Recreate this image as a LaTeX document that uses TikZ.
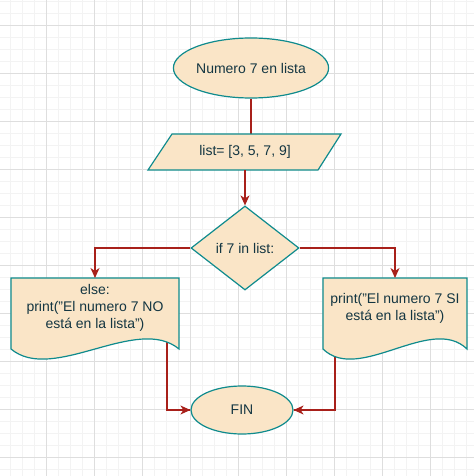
\documentclass[tikz,border=0pt]{standalone}
\usepackage{fontspec}
\setmainfont{Liberation Sans}
\usetikzlibrary{shapes.geometric,arrows.meta}
\pgfdeclarelayer{bg}
\pgfsetlayers{bg,main}
\definecolor{shapefill}{HTML}{FAE5C7}
\definecolor{shapeline}{HTML}{0F8B8D}
\definecolor{txtcol}{HTML}{143642}
\definecolor{edgecol}{HTML}{A8201A}
\definecolor{gridmajor}{HTML}{DEDEDE}
\definecolor{gridminor}{HTML}{F3F3F3}
\tikzset{
  shp/.style={fill=shapefill, draw=shapeline, line width=1.2pt},
  term/.style={shp, ellipse, inner sep=0pt, text=txtcol, font=\fontsize{14}{17}\selectfont},
  dec/.style={shp, diamond, inner sep=0pt, text=txtcol, font=\fontsize{14}{17}\selectfont},
  lbl/.style={text=txtcol, font=\fontsize{14}{17}\selectfont, align=center, inner sep=0pt},
  conn/.style={draw=edgecol, line width=1.2pt},
  arr/.style={conn, -{Stealth[length=10pt,width=9pt,inset=3pt]}},
  minorline/.style={draw=gridminor, line width=0.8pt},
  majorline/.style={draw=gridmajor, line width=0.9pt},
}
\begin{document}
\begin{tikzpicture}[x=1pt,y=-1pt]
\useasboundingbox (0,0) rectangle (474,476);
\begin{pgfonlayer}{bg}
\fill[white] (0,0) rectangle (474,476);
\foreach \i in {0,...,38} {\draw[minorline] ({10.3+12*\i},0) -- ({10.3+12*\i},476);}
\foreach \i in {0,...,39} {\draw[minorline] (0,{1.3+12*\i}) -- (474,{1.3+12*\i});}
\foreach \i in {0,...,8} {\draw[majorline] ({46.3+48*\i},0) -- ({46.3+48*\i},476);}
\foreach \i in {0,...,9} {\draw[majorline] (0,{25.3+48*\i}) -- (474,{25.3+48*\i});}
\end{pgfonlayer}

% start
\node[term, minimum width=144pt, minimum height=60pt] (start) at (251,68) {Numero 7 en lista};

% parallelogram
\draw[shp] (172,134) -- (341,134) -- (318,170) -- (148,170) -- cycle;
\node[lbl] (list) at (245,152) {list= [3, 5, 7, 9]};
\coordinate (listtop) at (251,134);
\coordinate (listbot) at (245,170);

% decision
\node[dec, minimum width=108pt, minimum height=84pt, aspect=1.2857] (cond) at (245,248) {if 7 in list:};

% left document
\draw[shp] (11,278) -- (179,278) -- (179,349)
  .. controls (137,314) and (53,384) .. (11,349) -- cycle;
\node[lbl] (nodoc) at (95,308) {else:\\print("El numero 7 NO\\está en la lista")};
\coordinate (nodoctop) at (95,278);
\coordinate (nodocout) at (167,320);

% right document
\draw[shp] (323,278) -- (467,278) -- (467,349)
  .. controls (431,314) and (359,384) .. (323,349) -- cycle;
\node[lbl] (sidoc) at (395,308) {print("El numero 7 SI\\está en la lista")};
\coordinate (sidoctop) at (395,278);
\coordinate (sidocout) at (335,330);

% end
\node[term, minimum width=102pt, minimum height=48pt] (fin) at (242,410) {FIN};

% connectors
\begin{pgfonlayer}{bg}
\draw[conn] (start.south) -- (listtop);
\draw[conn] (nodocout) |- (fin.west);
\draw[conn] (sidocout) |- (fin.east);
\end{pgfonlayer}
\draw[arr] (listbot) -- (cond.north);
\draw[arr] (cond.west) -| (nodoctop);
\draw[arr] (cond.east) -| (sidoctop);
\draw[arr] (nodocout |- fin.west) -- (fin.west);
\draw[arr] (sidocout |- fin.east) -- (fin.east);
\end{tikzpicture}
\end{document}
